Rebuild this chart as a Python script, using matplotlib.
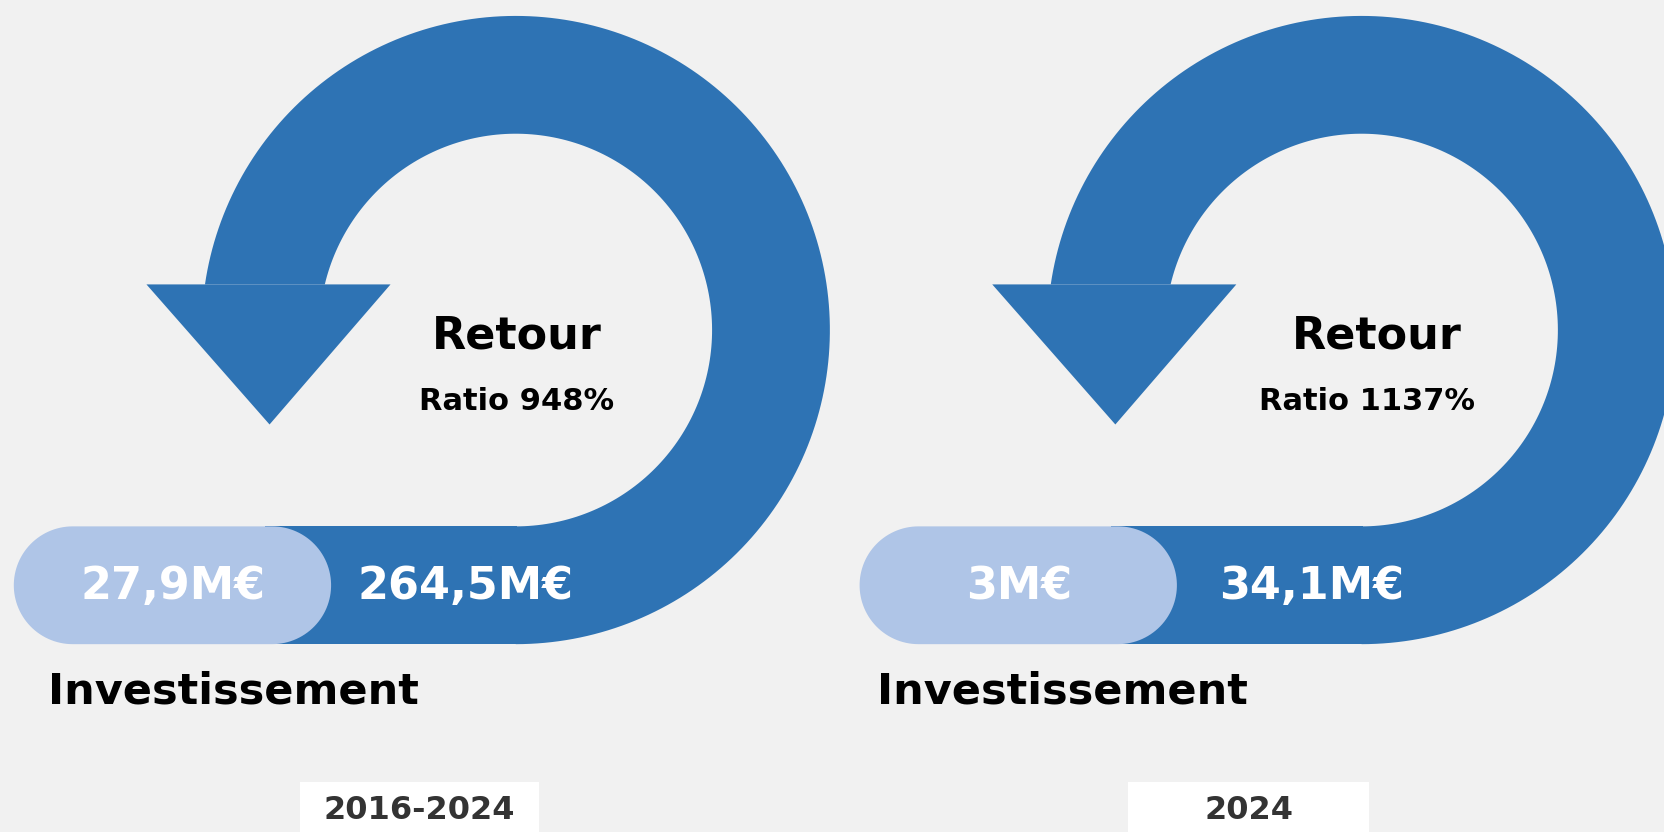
import matplotlib.pyplot as plt
import numpy as np
from matplotlib.patches import Polygon, Rectangle

# donnees
periodes = ["2016-2024", "2024"]
investissement = ["27,9M€", "3M€"]
retour = ["264,5M€", "34,1M€"]
ratio = [948, 1137]

# mise en page (coordonnees image 1568x784, y vers le bas)
W, H = 1568, 784
decalage = [0, 797]
retour_x = [487, 1297]
ratio_x = [487, 1288]
invest_label_x = [45, 826]
box_x = [283, 1063]
box_w = [225, 227]

bleu = '#2E73B4'
bleu_clair = '#AFC5E7'
fond = '#F1F1F1'
police = ['DejaVu Sans']


def Y(y):
    return H - y


def pilule(x0, x1, yb, h):
    rr = h / 2
    t = np.linspace(-np.pi / 2, np.pi / 2, 60)
    droite = np.column_stack([x1 - rr + rr * np.cos(t), yb + rr + rr * np.sin(t)])
    t = np.linspace(np.pi / 2, 3 * np.pi / 2, 60)
    gauche = np.column_stack([x0 + rr + rr * np.cos(t), yb + rr + rr * np.sin(t)])
    return np.concatenate([droite, gauche])


fig = plt.figure(figsize=(16.64, 8.32), dpi=100, facecolor=fond)
ax = fig.add_axes([0, 0, 1, 1])
ax.set_xlim(0, W)
ax.set_ylim(0, H)
ax.set_facecolor(fond)
ax.axis('off')

for i in range(len(periodes)):
    dx = decalage[i]
    cx, cy = 486 + dx, 311
    R, r = 296, 185
    y_cut = 268
    h = cy - y_cut
    a_out = np.pi - np.arcsin(h / R)
    a_in = np.pi - np.arcsin(h / r)
    t1 = np.linspace(-np.pi / 2, a_out, 200)
    t2 = np.linspace(a_in, -np.pi / 2, 200)
    pts = np.concatenate([
        np.column_stack([cx + R * np.cos(t1), Y(cy) + R * np.sin(t1)]),
        np.column_stack([cx + r * np.cos(t2), Y(cy) + r * np.sin(t2)]),
    ])
    ax.add_patch(Polygon(pts, closed=True, facecolor=bleu, edgecolor='none'))

    # fleche
    ax.add_patch(Polygon([(138 + dx, Y(y_cut)), (368 + dx, Y(y_cut)), (254 + dx, Y(400))],
                         closed=True, facecolor=bleu, edgecolor='none'))

    # barre
    ax.add_patch(Rectangle((250 + dx, Y(607)), cx - 250 - dx + 1, 111,
                           facecolor=bleu, edgecolor='none'))
    ax.add_patch(Polygon(pilule(13 + dx, 312 + dx, Y(607), 111), closed=True,
                         facecolor=bleu_clair, edgecolor='none'))

    ax.text(163 + dx, Y(553), investissement[i], color='white', fontsize=32,
            fontweight='bold', family=police, ha='center', va='center')
    ax.text(439 + dx, Y(553), retour[i], color='white', fontsize=32,
            fontweight='bold', family=police, ha='center', va='center')
    ax.text(invest_label_x[i], Y(652), 'Investissement', color='black', fontsize=31,
            fontweight='bold', family=police, ha='left', va='center')
    ax.text(retour_x[i], Y(317), 'Retour', color='black', fontsize=32,
            fontweight='bold', family=police, ha='center', va='center')
    ax.text(ratio_x[i], Y(378), f'Ratio {ratio[i]}%', color='black', fontsize=22,
            fontweight='bold', family=police, ha='center', va='center')

    ax.add_patch(Rectangle((box_x[i], 0), box_w[i], Y(737),
                           facecolor='white', edgecolor='none'))
    ax.text(box_x[i] + box_w[i] / 2, Y(764), periodes[i], color='#333333', fontsize=23,
            fontweight='bold', family=police, ha='center', va='center')

fig.savefig('out.png', dpi=100, facecolor=fond)
